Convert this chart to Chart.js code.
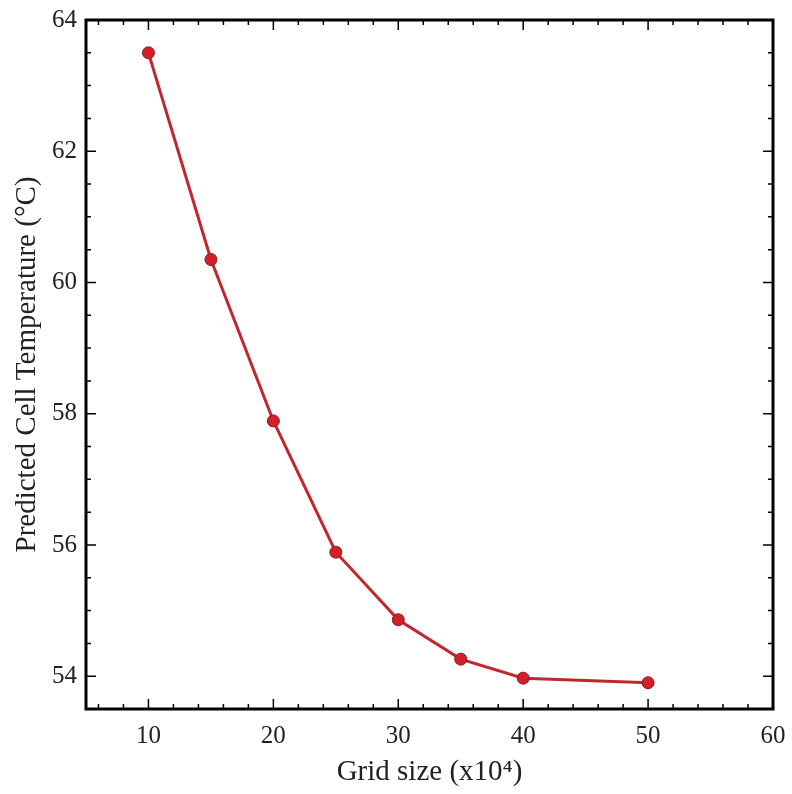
<!DOCTYPE html>
<html>
<head>
<meta charset="utf-8">
<script src="https://cdn.jsdelivr.net/npm/chart.js@4"></script>
<style>
html,body{margin:0;padding:0;background:#fff;}
#wrap{width:792px;height:794px;}
</style>
</head>
<body>
<div id="wrap"><canvas id="c" width="792" height="794"></canvas></div>
<script>
const gridSizes = [10, 15, 20, 25, 30, 35, 40, 50];
const cellTemps = [63.5, 60.35, 57.89, 55.89, 54.86, 54.26, 53.97, 53.90];
const xMajorTicks = [10, 20, 30, 40, 50, 60];
const xMinorTicks = [6, 8, 12, 14, 16, 18, 22, 24, 26, 28, 32, 34, 36, 38, 42, 44, 46, 48, 52, 54, 56, 58];
const yMajorTicks = [54, 56, 58, 60, 62, 64];
const yMinorTicks = [53.5, 54.5, 55, 55.5, 56.5, 57, 57.5, 58.5, 59, 59.5, 60.5, 61, 61.5, 62.5, 63, 63.5];
const xTitle = 'Grid size (x10\u2074)';
const yTitle = 'Predicted Cell Temperature (\u00B0C)';

const FONT = "'Liberation Serif', 'Times New Roman', serif";

const framePlugin = {
  id: 'frame',
  afterDraw(chart) {
    const ctx = chart.ctx;
    const {left, right, top, bottom} = chart.chartArea;
    const xs = chart.scales.x, ys = chart.scales.y;
    ctx.save();
    ctx.strokeStyle = '#000';
    ctx.lineWidth = 1.5;
    const tick = (vals, len, isX) => {
      vals.forEach(v => {
        ctx.beginPath();
        if (isX) {
          const p = xs.getPixelForValue(v);
          ctx.moveTo(p, bottom); ctx.lineTo(p, bottom - len);
          ctx.moveTo(p, top); ctx.lineTo(p, top + len);
        } else {
          const p = ys.getPixelForValue(v);
          ctx.moveTo(left, p); ctx.lineTo(left + len, p);
          ctx.moveTo(right, p); ctx.lineTo(right - len, p);
        }
        ctx.stroke();
      });
    };
    tick(xMajorTicks, 10, true);
    tick(xMinorTicks, 5, true);
    tick(yMajorTicks, 10, false);
    tick(yMinorTicks, 5, false);
    ctx.lineWidth = 3;
    ctx.strokeRect(left, top, right - left, bottom - top);
    ctx.restore();
  }
};

new Chart(document.getElementById('c'), {
  type: 'line',
  data: {
    datasets: [{
      data: gridSizes.map((g, i) => ({x: g, y: cellTemps[i]})),
      borderColor: '#bf282e',
      borderWidth: 3,
      pointRadius: 6,
      pointBackgroundColor: '#d21f2a',
      pointBorderColor: '#8a1a1c',
      pointBorderWidth: 1,
      tension: 0
    }]
  },
  options: {
    responsive: false,
    animation: false,
    devicePixelRatio: 1,
    layout: {padding: {top: 20, right: 19, left: 0, bottom: 0}},
    plugins: {legend: {display: false}, tooltip: {enabled: false}},
    scales: {
      x: {
        type: 'linear',
        min: 5, max: 60,
        afterBuildTicks: s => { s.ticks = xMajorTicks.map(v => ({value: v})); },
        afterFit: s => { s.height = 85; s.paddingLeft = 0; s.paddingRight = 0; },
        grid: {display: false, drawTicks: false},
        border: {display: false},
        ticks: {color: '#222', font: {family: FONT, size: 25}, padding: 12, maxRotation: 0},
        title: {display: true, text: xTitle, color: '#222', font: {family: FONT, size: 29}, padding: {top: 0, bottom: 4}}
      },
      y: {
        type: 'linear',
        min: 53.5, max: 64,
        afterBuildTicks: s => { s.ticks = yMajorTicks.map(v => ({value: v})); },
        afterFit: s => { s.width = 86; s.paddingTop = 0; s.paddingBottom = 0; },
        grid: {display: false, drawTicks: false},
        border: {display: false},
        ticks: {color: '#222', font: {family: FONT, size: 25}, padding: 9},
        title: {display: true, text: yTitle, color: '#222', font: {family: FONT, size: 29}, padding: {top: 10, bottom: 0}}
      }
    }
  },
  plugins: [framePlugin]
});
</script>
</body>
</html>
